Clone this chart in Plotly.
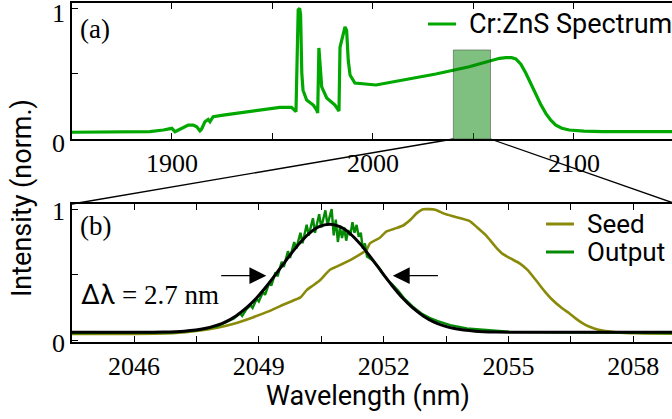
import plotly.graph_objects as go

# ---------------- data ----------------
# (a) broadband Cr:ZnS emission spectrum
spec_wl = [1850, 1870, 1889, 1895.7, 1899.9, 1901.5, 1904, 1908.1, 1910.6, 1912.3,
           1913.9, 1914.7, 1916.4, 1918, 1918.9, 1920.5, 1925.5, 1937.2, 1945.4, 1953.7,
           1959.5, 1961.2, 1961.7, 1962.8, 1963.5, 1964.0, 1964.6, 1965.2, 1967, 1970.3,
           1972, 1972.5, 1973.1, 1974.5, 1977, 1981.1, 1983.1, 1983.6, 1984.9, 1986.1,
           1986.9, 1987.7, 1988.6, 1991, 2001.5, 2014.8, 2031.3, 2047.9, 2055, 2059.5,
           2063, 2066.2, 2069, 2071.1, 2073.6, 2076.1, 2078.6, 2081.1, 2083.5, 2086,
           2088.5, 2091, 2094, 2097.7, 2105, 2114.3, 2150]
spec_int = [0.047, 0.048, 0.051, 0.064, 0.077, 0.051, 0.069, 0.102, 0.102, 0.089,
            0.058, 0.07, 0.128, 0.146, 0.128, 0.166, 0.179, 0.205, 0.225, 0.238,
            0.238, 0.215, 0.205, 0.987, 1.0, 0.95, 0.5, 0.37, 0.295, 0.256,
            0.218, 0.195, 0.695, 0.395, 0.31, 0.256, 0.21, 0.70, 0.78, 0.856,
            0.83, 0.6, 0.487, 0.425, 0.41, 0.448, 0.495, 0.55, 0.58, 0.60,
            0.615, 0.62, 0.62, 0.61, 0.57, 0.50, 0.42, 0.333, 0.26, 0.192,
            0.14, 0.102, 0.078, 0.064, 0.055, 0.051, 0.051]

# (b) seed spectrum
seed_wl = [2044.5, 2046.0, 2047.0, 2047.5, 2048.0, 2048.4, 2048.87, 2049.2, 2049.67, 2050.0,
           2050.15, 2050.3, 2050.47, 2050.71, 2050.87, 2051.27, 2051.59, 2051.67, 2051.9, 2052.07,
           2052.3, 2052.47, 2052.65, 2052.79, 2052.95, 2053.24, 2053.45, 2053.66, 2054.06, 2054.25,
           2054.46, 2054.7, 2054.86, 2055.05, 2055.26, 2055.45, 2055.66, 2055.86, 2056.06, 2056.26,
           2056.46, 2056.66, 2056.86, 2057.06, 2057.26, 2057.6, 2058.06, 2059.0]
seed_int = [0.053, 0.053, 0.06, 0.075, 0.10, 0.13, 0.18, 0.22, 0.286, 0.33,
            0.385, 0.42, 0.46, 0.54, 0.563, 0.626, 0.69, 0.74, 0.78, 0.83,
            0.855, 0.875, 0.92, 0.967, 0.998, 0.995, 0.965, 0.945, 0.91, 0.86,
            0.80, 0.71, 0.66, 0.625, 0.59, 0.54, 0.46, 0.38, 0.31, 0.255,
            0.21, 0.16, 0.12, 0.095, 0.078, 0.065, 0.058, 0.055]

# (b) amplifier output (measured)
out_wl = [2044.5, 2046.0, 2047.0, 2047.5, 2047.8, 2048.0, 2048.2, 2048.4, 2048.55, 2048.6,
          2048.7, 2048.8, 2048.85, 2048.95, 2049.0, 2049.1, 2049.15, 2049.25, 2049.3, 2049.4,
          2049.45, 2049.55, 2049.6, 2049.7, 2049.75, 2049.85, 2049.9, 2050.0, 2050.05, 2050.15,
          2050.2, 2050.3, 2050.35, 2050.45, 2050.5, 2050.6, 2050.65, 2050.75, 2050.8, 2050.85,
          2050.9, 2050.95, 2051.0, 2051.05, 2051.1, 2051.15, 2051.2, 2051.25, 2051.3, 2051.35,
          2051.4, 2051.45, 2051.5, 2051.55, 2051.6, 2051.7, 2051.8, 2051.9, 2052.0, 2052.1,
          2052.2, 2052.35, 2052.5, 2052.7, 2052.9, 2053.1, 2053.3, 2053.6, 2054.0, 2054.5,
          2055.0, 2056.0, 2059.0]
out_int = [0.06, 0.06, 0.065, 0.08, 0.095, 0.11, 0.14, 0.17, 0.21, 0.19,
           0.24, 0.27, 0.25, 0.32, 0.30, 0.37, 0.35, 0.44, 0.42, 0.52,
           0.49, 0.60, 0.56, 0.68, 0.63, 0.75, 0.70, 0.82, 0.74, 0.88,
           0.80, 0.93, 0.82, 0.96, 0.86, 0.99, 0.88, 1.0, 0.80, 0.92,
           0.75, 0.86, 0.78, 0.86, 0.76, 0.84, 0.80, 0.90, 0.82, 0.88,
           0.79, 0.82, 0.70, 0.74, 0.64, 0.62, 0.59, 0.55, 0.50, 0.46,
           0.43, 0.38, 0.32, 0.26, 0.21, 0.175, 0.15, 0.12, 0.095, 0.08,
           0.07, 0.065, 0.06]

# (b) Gaussian fit to the output
fit_wl = [2044.5, 2046.0, 2046.7, 2047.2, 2047.7, 2048.0, 2048.2, 2048.45, 2048.7, 2048.95,
          2049.2, 2049.45, 2049.7, 2049.95, 2050.2, 2050.45, 2050.7, 2050.95, 2051.2, 2051.45,
          2051.7, 2051.95, 2052.2, 2052.45, 2052.7, 2052.95, 2053.2, 2053.45, 2053.7, 2054.2,
          2054.7, 2055.5, 2059.0]
fit_int = [0.065, 0.065, 0.067, 0.074, 0.094, 0.12, 0.145, 0.19, 0.25, 0.327,
           0.42, 0.523, 0.63, 0.73, 0.812, 0.866, 0.885, 0.866, 0.812, 0.73,
           0.63, 0.523, 0.42, 0.327, 0.25, 0.19, 0.145, 0.114, 0.094, 0.074,
           0.067, 0.065, 0.065]

fwhm_nm = 2.7          # width of the fit
fit_center = 2050.7    # centre of the fit (nm)
half_level = 0.495     # height of the FWHM arrows

zoom_lo, zoom_hi = 2040.0, 2058.5   # window shown in panel (b)
zoom_top = 0.68

x1_ticks = [1850, 1900, 1950, 2000, 2050, 2100, 2150]
x1_text = ["", "1900", "", "2000", "", "2100", ""]
x2_ticks = [2044.5, 2046, 2047.5, 2049, 2050.5, 2052, 2053.5, 2055, 2056.5, 2058]
x2_text = ["", "2046", "", "2049", "", "2052", "", "2055", "", "2058"]
y_ticks = [0, 0.5, 1]
y_text = ["0", "", "1"]

# ---------------- geometry ----------------
W, H = 672, 419
ML = 72
TOP_ROWS = (3.3, 139.0)      # pixel rows of panel (a)
BOT_ROWS = (204.0, 342.0)    # pixel rows of panel (b)
X1R = [1850.25, 2148.8]
X2R = [2044.51, 2058.93]
Y1R = [-0.005, 1.038]
Y2R = [-0.008, 1.038]

SANS = "Roboto"
SERIF = "Liberation Serif"
C_SPEC = "#00a800"
C_SEED = "#8a8a0a"
C_OUT = "#058a05"
TICK_FONT = dict(family=SERIF, size=26, color="black")


def px_x(px):
    return (px - ML) / (W - ML)


def px_y(py):
    return (H - py) / H


def x1_px(v):
    return ML + (v - X1R[0]) / (X1R[1] - X1R[0]) * (W - ML)


def x2_px(v):
    return ML + (v - X2R[0]) / (X2R[1] - X2R[0]) * (W - ML)


fig = go.Figure()
fig.add_trace(go.Scatter(x=spec_wl, y=spec_int, mode="lines", xaxis="x", yaxis="y",
                         line=dict(color=C_SPEC, width=3.2), showlegend=False))
fig.add_trace(go.Scatter(x=seed_wl, y=seed_int, mode="lines", xaxis="x2", yaxis="y2",
                         line=dict(color=C_SEED, width=2.6, shape="spline", smoothing=0.5),
                         showlegend=False))
fig.add_trace(go.Scatter(x=out_wl, y=out_int, mode="lines", xaxis="x2", yaxis="y2",
                         line=dict(color=C_OUT, width=2.4), showlegend=False))
fig.add_trace(go.Scatter(x=fit_wl, y=fit_int, mode="lines", xaxis="x2", yaxis="y2",
                         line=dict(color="black", width=3, shape="spline", smoothing=0.6),
                         showlegend=False))


def axis_style(**extra):
    style = dict(showline=True, linecolor="black", linewidth=1.5, ticks="inside",
                 ticklen=6, tickwidth=1.2, tickcolor="black", showgrid=False,
                 zeroline=False, automargin=False, ticklabeloverflow="allow",
                 tickfont=dict(TICK_FONT))
    style.update(extra)
    return style


fig.update_layout(
    template="none",
    width=W, height=H, autosize=False,
    margin=dict(l=ML, r=0, t=0, b=0, pad=0, autoexpand=False),
    paper_bgcolor="white", plot_bgcolor="white",
    font=dict(TICK_FONT),
    showlegend=False,
    xaxis=dict(domain=[0, 1], range=X1R, anchor="y", mirror="ticks",
               tickmode="array", tickvals=x1_ticks, ticktext=x1_text, **axis_style()),
    yaxis=dict(domain=[px_y(TOP_ROWS[1]), px_y(TOP_ROWS[0])], range=Y1R, anchor="x",
               tickmode="array", tickvals=y_ticks, ticktext=y_text,
               **axis_style(ticklabelshift=5)),
    xaxis2=dict(domain=[0, 1], range=X2R, anchor="y2", mirror="ticks",
                tickmode="array", tickvals=x2_ticks, ticktext=x2_text, **axis_style()),
    yaxis2=dict(domain=[px_y(BOT_ROWS[1]), px_y(BOT_ROWS[0])], range=Y2R, anchor="x2",
                tickmode="array", tickvals=y_ticks, ticktext=y_text,
                **axis_style(ticklabelshift=2)),
)

shapes = []
# shaded window on panel (a)
shapes.append(dict(type="rect", xref="x", yref="y", x0=zoom_lo, x1=zoom_hi,
                   y0=Y1R[0], y1=zoom_top, fillcolor="rgba(0,128,0,0.5)",
                   line=dict(color="rgba(0,0,0,0.35)", width=1), layer="above"))
# connector lines from the window to panel (b)
shapes.append(dict(type="line", xref="paper", yref="paper",
                   x0=px_x(x1_px(zoom_lo)), y0=px_y(TOP_ROWS[1]),
                   x1=px_x(x2_px(X2R[0])), y1=px_y(BOT_ROWS[0]),
                   line=dict(color="black", width=1.3)))
shapes.append(dict(type="line", xref="paper", yref="paper",
                   x0=px_x(x1_px(zoom_hi)), y0=px_y(TOP_ROWS[1]),
                   x1=px_x(x2_px(2059.03)), y1=px_y(BOT_ROWS[0]),
                   line=dict(color="black", width=1.3)))

# hand-made legends
legend_items = [
    ("Cr:ZnS Spectrum", C_SPEC, 428, 24, 27),
    ("Seed", C_SEED, 546, 224, 26),
    ("Output", C_OUT, 546, 252, 26),
]
annotations = []
for name, col, lx, ly, fs in legend_items:
    shapes.append(dict(type="line", xref="paper", yref="paper",
                       x0=px_x(lx), x1=px_x(lx + 28), y0=px_y(ly), y1=px_y(ly),
                       line=dict(color=col, width=3)))
    annotations.append(dict(text=name, xref="paper", yref="paper", x=px_x(lx + 40),
                            y=px_y(ly), xanchor="left", yanchor="middle", showarrow=False,
                            borderpad=0, font=dict(family=SANS, size=fs, color="black")))

# panel tags
for tag, ty in (("(a)", 29), ("(b)", 226)):
    annotations.append(dict(text=tag, xref="paper", yref="paper", x=px_x(78), y=px_y(ty),
                            xanchor="left", yanchor="middle", showarrow=False,
                            font=dict(family=SERIF, size=27, color="black")))

# FWHM arrows and label
for side in (-1, 1):
    tip = fit_center + side * (fwhm_nm / 2 + 0.17)
    annotations.append(dict(text="", xref="x2", yref="y2", axref="x2", ayref="y2",
                            x=tip, y=half_level, ax=tip + side * 1.12, ay=half_level,
                            showarrow=True, arrowhead=2, arrowsize=2.6, arrowwidth=1.3,
                            arrowcolor="black", standoff=0, startstandoff=0))
annotations.append(dict(text=f'<span style="font-family:{SANS}">Δλ</span> = {fwhm_nm} nm',
                        xref="paper", yref="paper", x=px_x(79), y=px_y(295),
                        xanchor="left", yanchor="middle", showarrow=False,
                        font=dict(family=SERIF, size=27, color="black")))

# axis titles
annotations.append(dict(text="Intensity (norm.)", xref="paper", yref="paper",
                        x=px_x(22), y=px_y(198), textangle=-90, showarrow=False,
                        xanchor="center", yanchor="middle",
                        font=dict(family=SANS, size=27, color="black")))
annotations.append(dict(text="Wavelength (nm)", xref="paper", yref="paper",
                        x=px_x(368), y=px_y(396), showarrow=False,
                        xanchor="center", yanchor="middle",
                        font=dict(family=SANS, size=27, color="black")))

fig.update_layout(shapes=shapes, annotations=annotations)
fig.write_html("out.html")
